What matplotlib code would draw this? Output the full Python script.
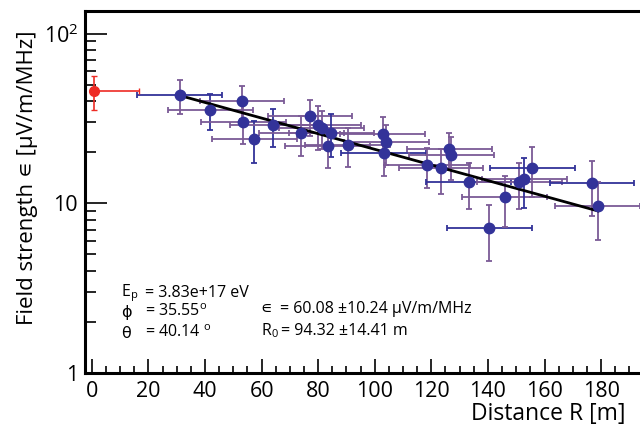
import numpy as np
import matplotlib
matplotlib.use('Agg')
import matplotlib.pyplot as plt
from matplotlib.ticker import FixedLocator, NullFormatter

plt.rcParams['font.family'] = ['Open Sans', 'DejaVu Sans']
plt.rcParams['mathtext.fontset'] = 'custom'
plt.rcParams['mathtext.rm'] = 'Open Sans'

# reference station (red)
ref_R = [0.8]
ref_E = [45.8]
ref_xerr = [16.0]
ref_yerr = [10.5]

# detector stations
R = [31.0, 41.9, 53.1, 53.5, 57.4, 64.0, 74.0, 77.1, 80.0, 81.3, 84.6, 83.4,
     90.5, 102.8, 104.0, 103.2, 118.6, 123.4, 126.3, 127.0, 133.2, 140.5,
     146.0, 151.1, 152.8, 155.6, 176.8, 178.8]
E = [43.4, 35.4, 40.3, 30.2, 23.9, 28.8, 25.9, 32.6, 29.0, 27.9, 26.1, 21.8,
     22.1, 25.6, 22.9, 19.9, 16.8, 16.1, 20.8, 19.2, 13.3, 7.16,
     10.9, 13.3, 14.0, 16.2, 13.1, 9.7]
R_err = [15.0] * len(R)
E_err = [10.0, 8.4, 9.0, 7.7, 6.5, 7.4, 7.0, 7.8, 8.5, 7.0, 7.4, 5.7,
         5.8, 6.5, 6.0, 5.4, 4.5, 4.8, 5.0, 5.4, 4.1, 2.6,
         3.6, 4.1, 4.6, 5.3, 4.7, 3.6]

# fit result
eps0 = 60.08
eps0_err = 10.24
R0 = 94.32
R0_err = 14.41

blue = '#333399'
purple = '#7b5a96'
red = '#ee2b24'
# which error bars are drawn blue instead of purple
xblue = {0, 15, 20, 21, 25, 26}
yblue = {1, 4, 5, 10, 24}

fig = plt.figure(figsize=(6.4, 4.29), dpi=100)
ax = fig.add_axes([85 / 640, 56 / 429, (657.7 - 85) / 640, 362 / 429])

for i in range(len(R)):
    cx = blue if i in xblue else purple
    cy = blue if i in yblue else purple
    ax.errorbar(R[i], E[i], xerr=R_err[i], fmt='none', ecolor=cx,
                elinewidth=1.3, capsize=2.5, capthick=1.3, zorder=2)
    ax.errorbar(R[i], E[i], yerr=E_err[i], fmt='none', ecolor=cy,
                elinewidth=1.3, capsize=2.5, capthick=1.3, zorder=2)
ax.plot(R, E, 'o', color=blue, markersize=7.5, zorder=4)

ax.errorbar(ref_R, ref_E, xerr=[[0], ref_xerr], yerr=ref_yerr, fmt='o',
            color=red, ecolor=red, elinewidth=1.2, capsize=2.5,
            markersize=7, zorder=4)

rr = np.linspace(min(R), max(R), 100)
ax.plot(rr, eps0 * np.exp(-rr / R0), color='black', lw=2, zorder=3)

ax.set_yscale('log')
ax.set_xlim(-2.4, 200)
ax.set_ylim(1, 136)

ax.xaxis.set_major_locator(FixedLocator(np.arange(0, 181, 20)))
ax.xaxis.set_minor_locator(FixedLocator(np.arange(0, 201, 5)))
ax.yaxis.set_major_locator(FixedLocator([1, 10, 100]))
ax.set_yticklabels(['1', '10', r'$\mathregular{10^2}$'])
ax.yaxis.set_minor_locator(FixedLocator([k * 10 ** d for d in range(0, 2) for k in range(2, 10)]))
ax.yaxis.set_minor_formatter(NullFormatter())

ax.tick_params(which='both', direction='in', top=False, right=False,
               labelsize=15.5, colors='black', width=1.2)
ax.tick_params(axis='x', which='major', length=10, pad=6)
ax.tick_params(axis='x', which='minor', length=5)
ax.tick_params(axis='y', which='major', length=16, pad=5)
ax.tick_params(axis='y', which='minor', length=8)

for sp in ax.spines.values():
    sp.set_linewidth(2.2)

ax.set_ylabel('Field strength \u220a [\u03bcV/m/MHz]', fontsize=16)
ax.yaxis.set_label_coords(-0.101, 0.947)
ax.yaxis.label.set_horizontalalignment('right')
ax.yaxis.label.set_verticalalignment('center')

ax.set_xlabel('Distance R [m]', fontsize=16.5)
ax.xaxis.set_label_coords(0.943, -0.113)
ax.xaxis.label.set_horizontalalignment('right')
ax.xaxis.label.set_verticalalignment('center')

fs = 11.5
tx = ax.transAxes
x1 = 0.063
x1v = 0.105
x2 = 0.307
x2v = 0.340
rows = [0.222, 0.168, 0.110]
ax.text(x1, rows[0], r'$\mathregular{E_p}$', transform=tx, fontsize=fs, va='center')
ax.text(x1v, rows[0], '= 3.83e+17 eV', transform=tx, fontsize=fs, va='center')
ax.text(x1, rows[1], '\u03d5', family='DejaVu Sans', transform=tx, fontsize=fs, va='center')
ax.text(x1v, rows[1], r'= 35.55$\mathregular{^o}$', transform=tx, fontsize=fs, va='center')
ax.text(x1, rows[2], '\u03b8', family='DejaVu Sans', transform=tx, fontsize=fs, va='center')
ax.text(x1v, rows[2], r'= 40.14 $\mathregular{^o}$', transform=tx, fontsize=fs, va='center')
ax.text(x2, 0.178, '\u220a', family='DejaVu Sans', transform=tx, fontsize=fs, va='center')
ax.text(x2v, 0.178, '= %.2f \u00b1%.2f \u03bcV/m/MHz' % (eps0, eps0_err),
        transform=tx, fontsize=fs, va='center')
ax.text(x2, 0.116, r'$\mathregular{R_0}$', transform=tx, fontsize=fs, va='center')
ax.text(x2v + 0.002, 0.116, '= %.2f \u00b1%.2f m' % (R0, R0_err),
        transform=tx, fontsize=fs, va='center')

fig.savefig('out.png', dpi=100)
